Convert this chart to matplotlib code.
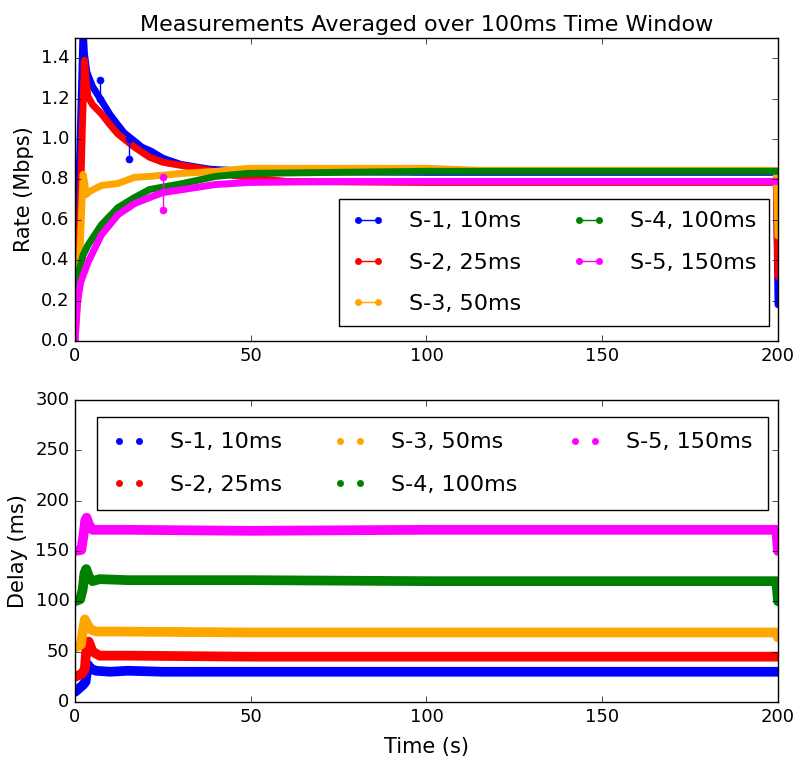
import matplotlib
matplotlib.use("Agg")
import matplotlib.pyplot as plt
from matplotlib.lines import Line2D

plt.style.use("classic")
plt.rcParams["font.family"] = ["DejaVu Sans"]
plt.rcParams["figure.facecolor"] = "white"
plt.rcParams["savefig.facecolor"] = "white"

# series names / colours
labels = ["S-1, 10ms", "S-2, 25ms", "S-3, 50ms", "S-4, 100ms", "S-5, 150ms"]
colors = ["blue", "red", "orange", "green", "magenta"]

# rate (Mbps)
rate_t1 = [0, 0.4, 1.3, 1.8, 2.3, 2.7, 3.4, 5, 7.5, 10, 12.2, 14, 16.9, 19, 21.6, 25, 30, 35, 38.7, 50, 100, 150, 199.5, 200]
rate_v1 = [0, 0.47, 0.89, 1.22, 1.55, 1.42, 1.33, 1.26, 1.19, 1.12, 1.07, 1.03, 0.99, 0.96, 0.94, 0.905, 0.875, 0.86, 0.85, 0.84, 0.835, 0.835, 0.835, 0.18]
rate_t2 = [0, 0.8, 1.6, 2.1, 2.7, 3.2, 3.7, 5, 7.5, 10, 12.2, 16.9, 21.2, 25, 30, 35.4, 45, 60, 100, 150, 199.5, 200]
rate_v2 = [0, 0.3, 0.72, 1.06, 1.39, 1.28, 1.21, 1.17, 1.125, 1.07, 1.025, 0.96, 0.91, 0.885, 0.87, 0.855, 0.82, 0.79, 0.785, 0.785, 0.785, 0.32]
rate_t3 = [0, 0.8, 1.3, 1.8, 2.3, 2.8, 3.2, 4.1, 7.5, 12.2, 16.9, 21.2, 30.7, 40, 49.5, 75, 100, 115, 150, 199.5, 200]
rate_v3 = [0, 0.2, 0.39, 0.6, 0.825, 0.78, 0.725, 0.74, 0.77, 0.78, 0.81, 0.815, 0.83, 0.84, 0.855, 0.855, 0.855, 0.845, 0.845, 0.845, 0.52]
rate_t4 = [0, 0.4, 1.3, 2.3, 3.7, 7.5, 12.2, 16.9, 21.2, 30.7, 40, 49.5, 75, 100, 150, 200]
rate_v4 = [0.08, 0.14, 0.36, 0.425, 0.475, 0.575, 0.66, 0.71, 0.75, 0.78, 0.815, 0.83, 0.835, 0.84, 0.84, 0.84]
rate_t5 = [0, 0.7, 1.6, 3.7, 7.5, 12.2, 16.9, 21.2, 25, 30.7, 40, 49.5, 75, 100, 150, 200]
rate_v5 = [0, 0.19, 0.29, 0.39, 0.525, 0.625, 0.68, 0.71, 0.735, 0.75, 0.775, 0.785, 0.79, 0.79, 0.79, 0.79]

# isolated outliers (series index, time, from, to)
spikes = [(0, 7.0, 1.20, 1.29), (0, 15.4, 1.00, 0.90), (4, 25.1, 0.81, 0.65)]

# delay (ms)
delay_t1 = [0, 1, 2.3, 3.0, 3.7, 4.5, 6, 10, 15, 25, 50, 100, 150, 200]
delay_v1 = [10, 13, 17, 20, 37, 33, 31, 30, 31, 30, 30, 30, 30, 30]
delay_t2 = [0, 2, 2.8, 3.3, 3.9, 5, 7, 15, 50, 100, 150, 200]
delay_v2 = [25, 28, 33, 55, 60, 50, 46, 46, 45, 45, 45, 45]
delay_t3 = [0, 1.7, 2.2, 2.8, 3.5, 4.5, 6, 10, 50, 100, 150, 199.5, 200]
delay_v3 = [54, 57, 70, 82, 77, 72, 70, 70, 69, 69, 69, 69, 64]
delay_t4 = [0, 1.5, 2.2, 2.7, 3.2, 4, 5, 7, 15, 50, 100, 150, 199.5, 200]
delay_v4 = [100, 102, 112, 128, 132, 124, 120, 122, 121, 121, 120, 120, 120, 100]
delay_t5 = [0, 1.8, 2.4, 2.9, 3.3, 4, 5, 7, 15, 50, 100, 150, 199.5, 200]
delay_v5 = [150, 151, 165, 180, 183, 176, 171, 171, 171, 170, 171, 171, 171, 150]

rate_t = [rate_t1, rate_t2, rate_t3, rate_t4, rate_t5]
rate_v = [rate_v1, rate_v2, rate_v3, rate_v4, rate_v5]
delay_t = [delay_t1, delay_t2, delay_t3, delay_t4, delay_t5]
delay_v = [delay_v1, delay_v2, delay_v3, delay_v4, delay_v5]

fig = plt.figure(figsize=(7.96, 7.65), dpi=100)
ax1 = fig.add_axes([0.0942, 0.5542, 0.8832, 0.3961])
ax2 = fig.add_axes([0.0942, 0.0824, 0.8832, 0.3948])

for t, v, c in zip(rate_t, rate_v, colors):
    ax1.plot(t, v, "-", color=c, lw=5, solid_joinstyle="round", solid_capstyle="round")
for i, ts, v0, v1 in spikes:
    ax1.plot([ts, ts], [v0, v1], ".-", color=colors[i], lw=1, markersize=10)

for t, v, c in zip(delay_t, delay_v, colors):
    ax2.plot(t, v, "-", color=c, lw=7, solid_joinstyle="round", solid_capstyle="round")

ax1.set_xlim(0, 200)
ax1.set_ylim(0, 1.5)
ax1.set_yticks([0, 0.2, 0.4, 0.6, 0.8, 1.0, 1.2, 1.4])
ax1.set_xticks([0, 50, 100, 150, 200])
ax1.set_ylabel("Rate (Mbps)", fontsize=15)
ax1.set_title("Measurements Averaged over 100ms Time Window", fontsize=16)

ax2.set_xlim(0, 200)
ax2.set_ylim(0, 300)
ax2.set_xticks([0, 50, 100, 150, 200])
ax2.set_yticks([0, 50, 100, 150, 200, 250, 300])
ax2.set_ylabel("Delay (ms)", fontsize=15)
ax2.set_xlabel("Time (s)", fontsize=15, labelpad=8)

for ax in (ax1, ax2):
    ax.tick_params(labelsize=13)

legend_kw = dict(borderaxespad=0, fontsize=16, numpoints=2, handlelength=1.5,
                 handletextpad=1.1, columnspacing=2.3, fancybox=False)

h1 = [Line2D([0], [0], color=c, marker=".", markersize=9, lw=1) for c in colors]
leg1 = ax1.legend(h1, labels, ncol=2, loc="lower right", bbox_to_anchor=(0.987, 0.05),
                  labelspacing=0.95, borderpad=0.55, **legend_kw)
leg1.get_frame().set_edgecolor("black")

h2 = [Line2D([0], [0], color=c, marker=".", markersize=9, linestyle="none") for c in colors]
leg2 = ax2.legend(h2, labels, ncol=3, loc="upper right", bbox_to_anchor=(0.986, 0.944),
                  labelspacing=1.0, borderpad=0.7, **legend_kw)
leg2.get_frame().set_edgecolor("black")

fig.savefig("out.png", dpi=100)
